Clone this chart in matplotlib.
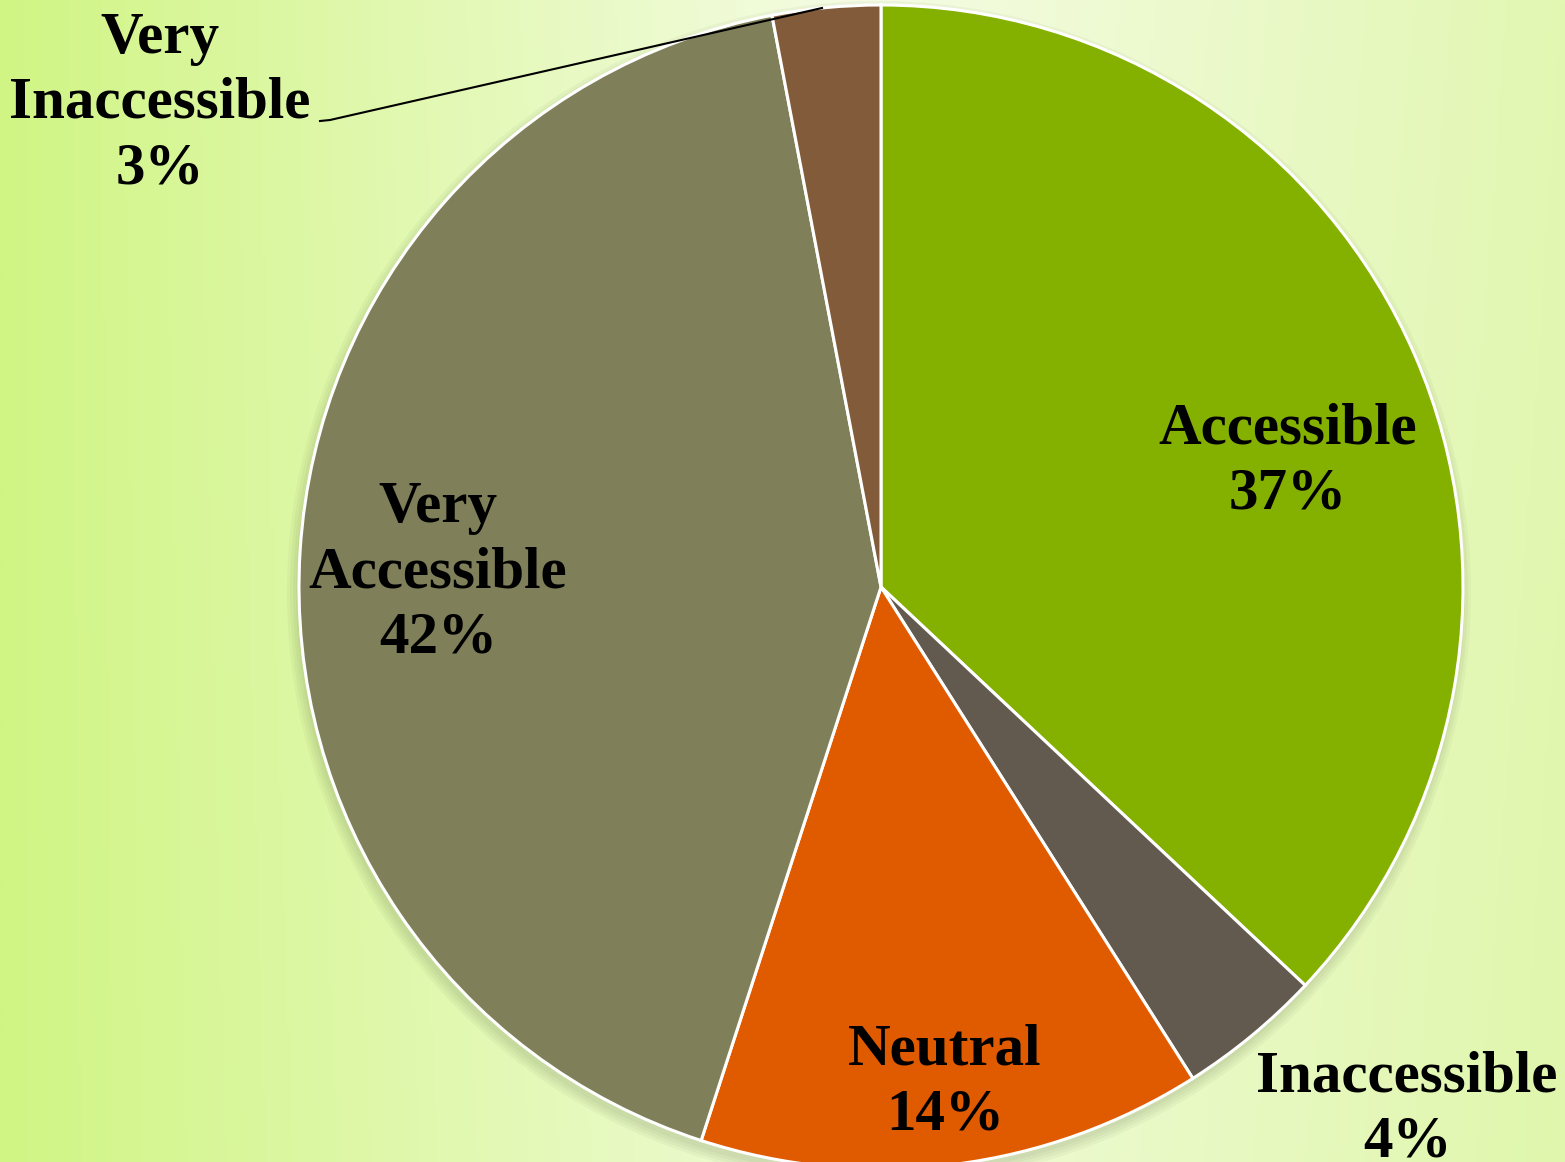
import numpy as np
import matplotlib.pyplot as plt
from matplotlib.patches import Circle

# Dati del grafico a torta (valori in percentuale)
categories = ['Accessible', 'Inaccessible', 'Neutral', 'Very\nAccessible', 'Very\nInaccessible']
values = [37, 4, 14, 42, 3]
colors = ['#84B000', '#635A4F', '#E05A00', '#7F8059', '#825C3A']

# Posizioni delle etichette (in pixel, origine in basso a sinistra)
label_pos = [(1288, 700), (1407, 52), (945, 79), (438, 589), (160, 1058)]

W, H = 1565, 1162
cx, cy, radius = 881, 575, 582

fig = plt.figure(figsize=(W / 100, H / 100), dpi=100)
ax = fig.add_axes([0, 0, 1, 1])
ax.set_xlim(0, W)
ax.set_ylim(0, H)
ax.axis('off')

# Sfondo sfumato verde
xx = np.linspace(0, 1, 400)
yy = np.linspace(0, 1, 300)
X, Y = np.meshgrid(xx, yy)
left = np.array([208, 245, 132]) / 255
mid = np.array([245, 252, 228]) / 255
right = np.array([226, 247, 178]) / 255
t = np.clip(X / 0.55, 0, 1)[..., None]
u = np.clip((X - 0.55) / 0.45, 0, 1)[..., None]
bg = np.where(X[..., None] < 0.55, left * (1 - t) + mid * t, mid * (1 - u) + right * u)
# più saturo verso il basso (riga 0 = basso con origin='lower')
fade = (0.12 * (1 - Y))[..., None]
bg = bg * (1 - fade) + left * fade
ax.imshow(bg, extent=(0, W, 0, H), origin='lower', aspect='auto', zorder=0)

# Ombra sotto la torta
for i in range(4):
    ax.add_patch(Circle((cx - 2, cy - 6), radius + 10 - i * 3, color='#556040', alpha=0.05, lw=0, zorder=1))

wedges, _ = ax.pie(values, colors=colors, startangle=90, counterclock=False,
                   center=(cx, cy), radius=radius,
                   wedgeprops=dict(edgecolor='white', linewidth=2.2))
for w in wedges:
    w.set_zorder(2)
ax.set_xlim(0, W)
ax.set_ylim(0, H)
ax.set_aspect('equal')

for cat, val, (x, y) in zip(categories, values, label_pos):
    ax.text(x, y, f'{cat}\n{val}%', ha='center', va='center', fontsize=42.5,
            fontweight='bold', family='Liberation Serif', linespacing=1.27, zorder=3)

# Linea guida per "Very Inaccessible"
ax.plot([822, 330, 320], [H - 8, H - 120, H - 121], color='black', lw=1.5, zorder=3)

fig.savefig('out.png', dpi=100)
